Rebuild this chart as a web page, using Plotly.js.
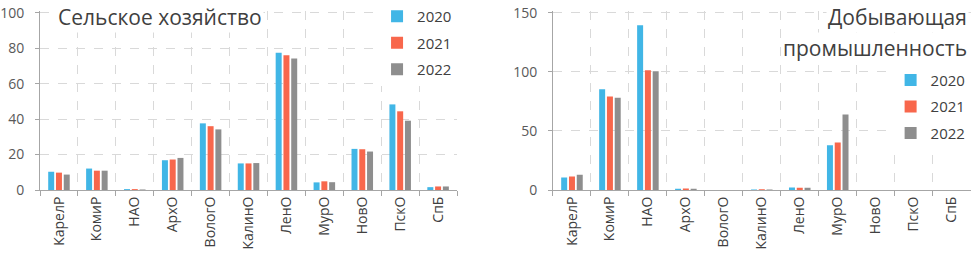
<!DOCTYPE html>
<html>
<head>
<meta charset="utf-8">
<script src="https://cdn.plot.ly/plotly-3.0.1.min.js"></script>
<style>html,body{margin:0;padding:0;background:#fff}#chart{width:971px;height:256px}</style>
</head>
<body>
<div id="chart"></div>
<script>
const regions = ["КарелР","КомиР","НАО","АрхО","ВологО","КалинО","ЛенО","МурО","НовО","ПскО","СпБ"];
const years = ["2020","2021","2022"];

const agri2020 = [10.3, 12.1, 0.5, 16.8, 37.6, 15.0, 77.5, 4.3, 23.2, 48.3, 1.6];
const agri2021 = [9.8, 10.9, 0.5, 17.2, 36.0, 15.0, 76.0, 4.9, 23.0, 44.4, 2.0];
const agri2022 = [8.7, 10.9, 0.3, 18.1, 34.2, 15.2, 74.2, 4.4, 21.7, 39.1, 2.0];

const mining2020 = [10.5, 85.3, 139.4, 1.0, 0, 0.5, 2.2, 37.8, 0, 0, 0];
const mining2021 = [11.5, 79.1, 101.4, 1.2, 0, 0.6, 2.0, 40.2, 0, 0, 0];
const mining2022 = [12.9, 78.0, 100.6, 1.0, 0, 0.5, 1.8, 64.0, 0, 0, 0];

const agriTicks = [0, 20, 40, 60, 80, 100];
const miningTicks = [0, 50, 100, 150];

const colors = ["#41B6E6", "#F8674C", "#8E8E8E"];
const agri = [agri2020, agri2021, agri2022];
const mining = [mining2020, mining2021, mining2022];

const font = "Open Sans, Noto Sans, sans-serif";
const traces = [];
years.forEach((yr, i) => {
  traces.push({type: "bar", x: regions, y: agri[i], name: yr, xaxis: "x", yaxis: "y",
    marker: {color: colors[i]}, legend: "legend", legendgroup: "a" + yr, hoverinfo: "x+y+name"});
});
years.forEach((yr, i) => {
  traces.push({type: "bar", x: regions, y: mining[i], name: yr, xaxis: "x2", yaxis: "y2",
    marker: {color: colors[i]}, legend: "legend2", legendgroup: "m" + yr, hoverinfo: "x+y+name"});
});

const gridStyle = {showgrid: true, gridcolor: "#D9D9D9", griddash: "dash", gridwidth: 1};
const xCommon = Object.assign({}, gridStyle, {
  type: "category", tickson: "boundaries", ticks: "outside", ticklen: 5, tickcolor: "#A6A6A6",
  showline: true, linecolor: "#A6A6A6", linewidth: 1, tickangle: -90,
  tickfont: {family: font, size: 14, color: "#404040"}, zeroline: false
});
const yCommon = Object.assign({}, gridStyle, {
  showline: true, linecolor: "#A6A6A6", linewidth: 1, ticks: "outside", ticklen: 4, tickcolor: "#A6A6A6",
  tickfont: {family: font, size: 14, color: "#595959"}, zeroline: false, ticklabeloverflow: "allow",
  ticklabelstandoff: 8
});

const legendCommon = {
  font: {family: font, size: 15, color: "#404040"}, bgcolor: "rgba(255,255,255,1)",
  tracegroupgap: 4, itemwidth: 30, xanchor: "right", yanchor: "top", borderwidth: 0
};

const titleFont = {family: font, size: 21, color: "#404040"};
const layout = {
  width: 971, height: 256,
  margin: {l: 0, r: 0, t: 4, b: 66},
  paper_bgcolor: "#fff", plot_bgcolor: "#fff",
  barmode: "group", bargap: 0.385, bargroupgap: 0.23,
  xaxis: Object.assign({}, xCommon, {domain: [0.0412, 0.4707], anchor: "y"}),
  yaxis: Object.assign({}, yCommon, {range: [0, 101], tickvals: agriTicks, anchor: "x"}),
  xaxis2: Object.assign({}, xCommon, {domain: [0.5695, 0.9996], anchor: "y2"}),
  yaxis2: Object.assign({}, yCommon, {range: [0, 151.5], tickvals: miningTicks, anchor: "x2"}),
  legend: Object.assign({}, legendCommon, {x: 0.4707, y: 1.062}),
  legend2: Object.assign({}, legendCommon, {x: 0.9996, y: 0.705}),
  showlegend: true,
  annotations: [
    {text: "Сельское хозяйство", xref: "paper", yref: "paper", x: 0.058, y: 0.9645,
     xanchor: "left", yanchor: "middle", showarrow: false, bgcolor: "#fff", font: titleFont},
    {text: "Добывающая", xref: "paper", yref: "paper", x: 0.998, y: 0.9645,
     xanchor: "right", yanchor: "middle", showarrow: false, bgcolor: "#fff", font: titleFont},
    {text: "промышленность", xref: "paper", yref: "paper", x: 0.998, y: 0.7924,
     xanchor: "right", yanchor: "middle", showarrow: false, bgcolor: "#fff", font: titleFont}
  ]
};

Plotly.newPlot("chart", traces, layout, {displayModeBar: false, staticPlot: true});
</script>
</body>
</html>
